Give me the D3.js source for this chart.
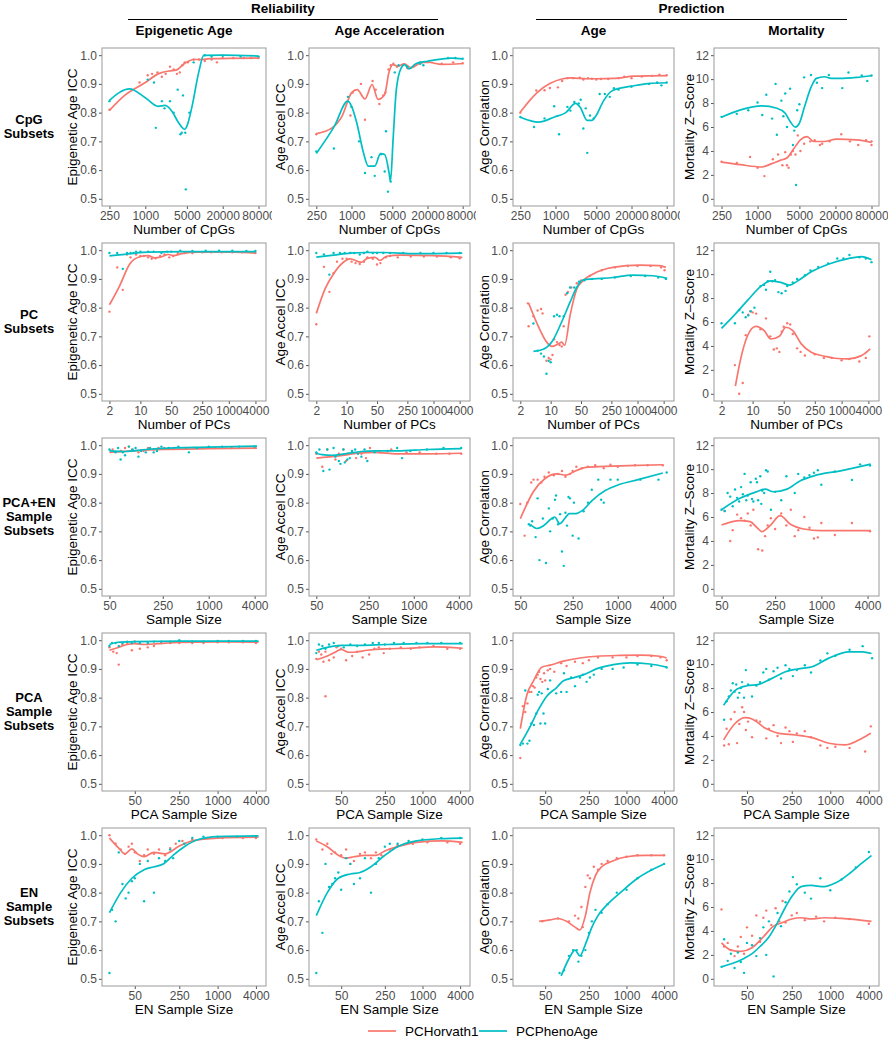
<!DOCTYPE html>
<html>
<head>
<meta charset="utf-8">
<script src="https://cdn.jsdelivr.net/npm/d3@7"></script>
<style>
body { margin: 0; background: #fff; }
svg text { font-family: "Liberation Sans", Arial, Helvetica, sans-serif; }
</style>
</head>
<body>
<svg id="chart" width="888" height="1050"></svg>
<script>
// labels and axes
const rowLabels = [["CpG", "Subsets"], ["PC", "Subsets"], ["PCA+EN", "Sample", "Subsets"], ["PCA", "Sample", "Subsets"], ["EN", "Sample", "Subsets"]];
const xTitles = ["Number of CpGs", "Number of PCs", "Sample Size", "PCA Sample Size", "EN Sample Size"];
const xTickVals = [[250, 1000, 5000, 20000, 80000], [2, 10, 50, 250, 1000, 4000], [50, 250, 1000, 4000], [50, 250, 1000, 4000], [50, 250, 1000, 4000]];
const xRanges = [[250, 80000], [2, 4700], [50, 4500], [20, 4400], [20, 4400]];
const colTitles = ["Epigenetic Age", "Age Acceleration", "Age", "Mortality"];
const yTitles = ["Epigenetic Age ICC", "Age Accel ICC", "Age Correlation", "Mortality Z\u2013Score"];
const iccTicks = [0.5, 0.6, 0.7, 0.8, 0.9, 1.0];
const mortTicks = [0, 2, 4, 6, 8, 10, 12];
const seriesNames = ["PCHorvath1", "PCPhenoAge"];

// ---- row 1: CpG subsets ----
const cpgEpiH = [[250,0.81],[800,0.905],[1100,0.93],[1300,0.935],[1600,0.94],[1900,0.925],[2200,0.935],[2600,0.96],[3000,0.95],[3400,0.935],[3800,0.94],[4200,0.965],[4600,0.975],[5200,0.975],[6500,0.985],[8000,0.985],[10000,0.98],[13000,0.985],[16000,0.975],[20000,0.99],[30000,0.99],[45000,0.99],[60000,0.99],[80000,0.99]];
const cpgEpiHfit = [[250,0.808],[450,0.86],[1000,0.905],[1650,0.935],[2500,0.945],[3300,0.948],[4500,0.97],[6500,0.985],[9000,0.985],[12000,0.988],[80000,0.99]];
const cpgEpiP = [[250,0.84],[1100,0.915],[1400,0.905],[1500,0.747],[1900,0.84],[2100,0.815],[2600,0.84],[3000,0.80],[3500,0.88],[3900,0.725],[4100,0.73],[4300,0.86],[4700,0.73],[4800,0.533],[5500,0.80],[6500,0.975],[10000,1.0],[13000,0.995],[20000,0.998],[40000,0.995],[80000,0.995]];
const cpgEpiPfit = [[250,0.843],[545,0.883],[1000,0.852],[1650,0.822],[2150,0.825],[2800,0.805],[3600,0.766],[4600,0.742],[5000,0.753],[6080,0.82],[7900,0.94],[9600,0.999],[20000,1.0],[80000,0.997]];

const cpgAccH = [[250,0.725],[960,0.79],[1050,0.87],[1450,0.90],[1700,0.775],[2300,0.91],[2600,0.88],[3000,0.83],[3500,0.86],[3800,0.87],[4300,0.95],[4700,0.965],[5200,0.97],[6000,0.96],[9000,0.955],[12000,0.965],[15000,0.975],[20000,0.975],[35000,0.97],[55000,0.975],[80000,0.972]];
const cpgAccHfit = [[250,0.727],[465,0.747],[690,0.788],[1000,0.869],[1250,0.88],[1700,0.848],[2250,0.898],[2850,0.846],[3700,0.863],[4350,0.938],[5100,0.967],[6200,0.962],[8000,0.97],[10500,0.956],[14500,0.971],[20000,0.976],[35000,0.968],[80000,0.971]];
const cpgAccP = [[250,0.665],[500,0.675],[870,0.855],[1000,0.82],[1350,0.70],[1700,0.59],[2200,0.645],[2500,0.58],[3200,0.655],[3700,0.595],[3900,0.735],[4200,0.525],[4700,0.56],[5500,0.94],[6400,0.965],[9000,0.96],[15000,0.97],[17000,0.965],[45000,0.99],[60000,0.99],[80000,0.988]];
const cpgAccPfit = [[250,0.658],[510,0.753],[860,0.84],[1000,0.823],[1230,0.765],[1600,0.661],[1940,0.614],[2500,0.614],[3130,0.657],[3700,0.654],[4400,0.59],[4650,0.561],[5150,0.706],[5850,0.88],[7100,0.956],[8100,0.967],[9600,0.952],[12800,0.971],[20000,0.979],[52000,0.99],[80000,0.987]];

const cpgCorH = [[250,0.80],[470,0.877],[650,0.878],[800,0.886],[1100,0.888],[1300,0.91],[1600,0.92],[2000,0.92],[2600,0.922],[3000,0.915],[3600,0.92],[4200,0.918],[5000,0.915],[6000,0.917],[8000,0.917],[12000,0.92],[15000,0.925],[20000,0.92],[30000,0.926],[45000,0.928],[60000,0.932],[80000,0.93]];
const cpgCorHfit = [[250,0.802],[480,0.869],[800,0.901],[1340,0.918],[1860,0.921],[3400,0.918],[5000,0.918],[10000,0.919],[22000,0.927],[80000,0.929]];
const cpgCorP = [[250,0.785],[430,0.75],[650,0.78],[950,0.822],[1150,0.725],[1600,0.82],[1800,0.807],[2100,0.837],[2500,0.832],[2700,0.845],[3000,0.745],[3300,0.815],[3500,0.66],[3900,0.79],[4500,0.78],[5700,0.865],[7000,0.865],[8500,0.855],[10000,0.885],[12000,0.88],[20000,0.89],[40000,0.9],[55000,0.905],[65000,0.895],[80000,0.905]];
const cpgCorPfit = [[250,0.784],[510,0.767],[960,0.785],[1500,0.80],[2200,0.832],[2680,0.817],[3470,0.773],[4200,0.773],[4900,0.788],[6600,0.84],[9100,0.875],[13400,0.886],[19700,0.892],[38000,0.901],[80000,0.904]];

const cpgMortH = [[250,3.1],[450,3.0],[750,3.5],[1000,2.6],[1300,1.9],[1800,3.3],[2200,3.7],[2600,2.8],[2900,3.9],[3100,2.8],[3300,2.6],[3600,3.7],[3900,4.0],[4300,3.7],[4700,5.3],[5200,4.0],[6000,4.6],[7600,4.8],[9000,4.9],[11000,4.5],[12000,4.6],[16000,4.8],[25000,5.4],[35000,4.8],[48000,4.5],[65000,4.9],[80000,4.5],[80000,4.8]];
const cpgMortHfit = [[250,3.07],[520,2.85],[1180,2.66],[1730,2.94],[2380,3.21],[3080,3.41],[4000,4.16],[5200,4.93],[6700,5.2],[8700,4.79],[12800,4.79],[21000,4.99],[45000,4.93],[80000,4.71]];
const cpgMortP = [[250,6.85],[450,7.1],[700,7.4],[1000,8.05],[1200,7.0],[1400,8.7],[1750,6.7],[2000,9.6],[2100,5.35],[2500,8.2],[2700,6.9],[2900,8.8],[3100,6.0],[3500,9.2],[3900,4.5],[4100,5.7],[4400,1.15],[4600,7.4],[5000,7.9],[6000,10.15],[7800,10.35],[9800,9.7],[12000,9.25],[15500,10.35],[26000,9.25],[33000,10.55],[55000,10.3],[68000,9.85],[80000,10.3]];
const cpgMortPfit = [[250,6.82],[520,7.43],[1180,7.76],[2100,7.57],[2900,7.15],[3500,6.46],[4300,5.99],[5000,6.32],[6100,7.71],[7900,9.37],[9600,10.06],[13000,10.2],[17000,10.06],[23000,10.06],[45000,10.14],[80000,10.28]];

// ---- row 2: PC subsets ----
const pcEpiH = [[2,0.786],[3,0.94],[4,0.862],[5,0.985],[6,0.975],[8,0.985],[10,0.98],[12,0.98],[15,0.975],[18,0.97],[22,0.972],[28,0.98],[35,0.985],[45,0.975],[55,0.98],[70,0.99],[100,0.99],[150,0.99],[250,0.993],[400,0.993],[700,0.993],[1200,0.993],[2000,0.993],[4000,0.99]];
const pcEpiHfit = [[2,0.81],[3.4,0.876],[5.7,0.951],[9.7,0.977],[15,0.981],[21,0.973],[30,0.977],[43,0.985],[56,0.981],[86,0.988],[210,0.993],[1200,0.993],[4100,0.99]];
const pcEpiP = [[2,0.99],[3,0.99],[4,0.935],[5,0.99],[6,0.99],[7,0.99],[8,0.995],[10,0.995],[15,0.995],[20,0.995],[30,0.99],[40,0.995],[50,0.995],[80,0.998],[150,0.997],[300,0.998],[600,0.998],[1200,0.998],[2500,0.997],[4000,0.997]];
const pcEpiPfit = [[2,0.98],[6.2,0.988],[15,0.993],[86,0.995],[4100,0.995]];

const pcAccH = [[2,0.742],[3,0.942],[4,0.855],[5,0.92],[6,0.96],[8,0.97],[10,0.97],[13,0.96],[16,0.955],[20,0.952],[25,0.96],[30,0.975],[40,0.97],[50,0.95],[60,0.955],[80,0.975],[100,0.98],[150,0.975],[300,0.978],[600,0.978],[1200,0.978],[2500,0.975],[4000,0.972]];
const pcAccHfit = [[2,0.78],[3.2,0.866],[5,0.918],[8.4,0.958],[12,0.97],[18.6,0.96],[22,0.958],[29,0.97],[45,0.975],[58,0.964],[83,0.979],[170,0.983],[1000,0.981],[4600,0.975]];
const pcAccP = [[2,0.99],[3,0.985],[4,0.915],[5,0.99],[7,0.99],[9,0.99],[12,0.99],[15,0.99],[20,0.985],[25,0.99],[30,0.995],[40,0.99],[50,0.99],[70,0.99],[100,0.99],[200,0.99],[500,0.99],[1000,0.99],[2000,0.99],[4000,0.99]];
const pcAccPfit = [[2,0.976],[5,0.983],[12,0.99],[29,0.992],[70,0.992],[400,0.988],[4600,0.99]];

const pcCorH = [[3,0.815],[3.1,0.735],[4,0.77],[5,0.79],[6,0.795],[6.5,0.78],[8,0.615],[9,0.625],[10,0.62],[11,0.635],[12,0.69],[14,0.68],[16,0.67],[18,0.665],[20,0.735],[22,0.845],[25,0.855],[30,0.87],[40,0.885],[50,0.895],[80,0.91],[150,0.93],[300,0.94],[600,0.945],[1000,0.945],[2000,0.945],[3500,0.94],[4200,0.93]];
const pcCorHfit = [[3.1,0.816],[5.3,0.732],[8.1,0.68],[10.6,0.665],[15,0.674],[17.9,0.68],[21,0.669],[28,0.773],[40,0.865],[56,0.894],[95,0.917],[270,0.94],[1120,0.948],[3200,0.946],[4500,0.94]];
const pcCorP = [[4,0.745],[5,0.65],[6,0.64],[7,0.63],[8,0.57],[9,0.615],[10,0.61],[12,0.77],[14,0.775],[16,0.77],[20,0.77],[24,0.85],[28,0.87],[35,0.87],[45,0.89],[60,0.895],[90,0.9],[150,0.9],[300,0.905],[700,0.91],[1500,0.91],[3000,0.905],[4500,0.9]];
const pcCorPfit = [[4,0.648],[6.8,0.655],[10.6,0.68],[17.9,0.75],[28,0.819],[40,0.871],[56,0.897],[95,0.9],[270,0.905],[780,0.913],[2200,0.911],[4800,0.902]];

const pcMortH = [[4,2.4],[5,0.0],[6,0.9],[7,4.9],[8,6.6],[9,6.9],[10,6.8],[12,6.7],[15,5.4],[20,6.3],[25,4.8],[30,3.7],[35,3.8],[40,3.5],[45,5.2],[50,5.6],[60,5.9],[70,5.8],[80,5.0],[100,3.8],[120,3.5],[150,3.2],[250,3.3],[400,3.0],[600,3.0],[1000,2.8],[1500,2.9],[2500,2.7],[3500,3.0],[4200,4.8]];
const pcMortHfit = [[4.1,0.64],[5.4,2.92],[7.6,4.81],[11.8,5.64],[18.2,5.28],[25.7,4.58],[40,4.81],[56,5.56],[80,5.28],[124,4.17],[208,3.47],[420,3.14],[700,2.97],[1400,2.92],[2800,3.19],[4400,3.75]];
const pcMortP = [[2,5.9],[4,5.9],[5,7.0],[6,6.8],[7,6.4],[8,6.55],[9,6.9],[11,7.2],[15,9.0],[18,9.1],[20,8.7],[22,9.4],[25,10.2],[28,9.4],[32,9.5],[38,8.5],[45,8.4],[55,8.6],[60,9.0],[80,9.3],[100,9.6],[150,9.9],[200,10.3],[300,10.6],[500,10.9],[800,11.3],[1100,11.3],[1500,11.6],[2500,11.4],[3500,11.3],[4700,11.0]];
const pcMortPfit = [[2,5.47],[3.8,6.53],[7.6,7.78],[15.3,8.97],[25.7,9.44],[43,9.31],[67,9.08],[104,9.44],[208,10.19],[500,10.83],[1400,11.3],[2800,11.47],[4700,11.2]];

// ---- row 3: PCA+EN sample subsets ----
const bothEpiH = [[55,0.985],[70,0.98],[80,0.99],[90,0.995],[100,0.985],[120,0.975],[140,0.98],[160,0.99],[190,0.985],[220,0.99],[260,0.99],[350,0.99],[500,0.99],[800,0.99],[1200,0.99],[2000,0.99],[4000,0.99]];
const bothEpiHfit = [[50,0.975],[100,0.98],[250,0.985],[1000,0.988],[4300,0.99]];
const bothEpiP = [[50,0.985],[60,0.975],[65,0.99],[70,0.95],[75,0.975],[80,0.965],[90,0.995],[100,0.985],[110,0.99],[120,0.96],[130,0.98],[150,0.975],[170,0.99],[190,0.975],[210,0.98],[240,0.995],[300,0.99],[400,0.995],[550,0.975],[700,0.99],[1000,0.995],[1500,0.995],[2500,0.995],[4000,0.995]];
const bothEpiPfit = [[50,0.98],[80,0.978],[150,0.985],[300,0.99],[1000,0.993],[4300,0.997]];

const bothAccH = [[50,0.97],[60,0.925],[70,0.985],[90,0.95],[100,0.97],[115,0.985],[125,0.945],[135,0.97],[150,0.98],[170,0.955],[200,0.97],[230,0.955],[260,0.99],[350,0.975],[500,0.985],[800,0.975],[1200,0.975],[2000,0.97],[3000,0.97],[4300,0.97]];
const bothAccHfit = [[50,0.955],[100,0.963],[200,0.973],[300,0.975],[600,0.97],[1500,0.97],[4300,0.972]];
const bothAccP = [[50,0.975],[55,0.985],[62,0.91],[70,0.985],[75,0.915],[85,0.99],[90,0.96],[100,0.945],[105,0.935],[115,0.985],[120,0.94],[130,0.95],[140,0.955],[150,0.98],[165,0.985],[180,0.97],[200,0.96],[220,0.985],[240,0.945],[300,0.975],[450,0.98],[600,0.99],[700,0.955],[900,0.98],[1500,0.985],[2500,0.99],[4300,0.99]];
const bothAccPfit = [[50,0.972],[60,0.967],[80,0.965],[120,0.97],[200,0.978],[300,0.98],[600,0.98],[1500,0.985],[4300,0.988]];

const bothCorH = [[50,0.795],[57,0.685],[62,0.8],[70,0.87],[75,0.88],[85,0.88],[95,0.87],[105,0.89],[120,0.905],[140,0.895],[160,0.9],[180,0.91],[200,0.89],[230,0.9],[250,0.91],[280,0.925],[330,0.92],[400,0.925],[500,0.93],[650,0.92],[800,0.932],[1000,0.925],[1700,0.93],[2500,0.93],[4000,0.93]];
const bothCorHfit = [[50,0.744],[75,0.839],[106,0.883],[151,0.9],[203,0.896],[276,0.911],[374,0.923],[680,0.926],[1390,0.929],[4000,0.932]];
const bothCorP = [[65,0.725],[68,0.72],[72,0.735],[80,0.68],[85,0.815],[90,0.6],[100,0.745],[110,0.59],[120,0.78],[125,0.7],[135,0.745],[145,0.81],[150,0.825],[160,0.725],[170,0.76],[180,0.63],[190,0.58],[200,0.765],[210,0.72],[220,0.82],[230,0.815],[250,0.685],[260,0.8],[300,0.675],[350,0.77],[400,0.8],[450,0.845],[550,0.88],[600,0.81],[650,0.8],[800,0.88],[1000,0.88],[2000,0.88],[3500,0.88],[4500,0.905]];
const bothCorPfit = [[68,0.724],[83,0.71],[101,0.719],[130,0.744],[144,0.75],[168,0.727],[195,0.744],[226,0.762],[276,0.762],[338,0.773],[457,0.808],[680,0.842],[1020,0.862],[1870,0.88],[4000,0.903]];

const bothMortH = [[55,6.5],[65,4.0],[70,4.9],[80,6.2],[90,5.9],[100,5.7],[110,6.3],[120,5.3],[130,6.6],[150,3.3],[170,3.2],[185,4.4],[200,5.3],[220,5.9],[250,5.0],[300,6.3],[350,5.3],[400,6.6],[450,4.4],[500,4.9],[600,6.0],[700,5.1],[800,4.2],[900,4.3],[1000,5.5],[1500,4.5],[2500,5.5],[4300,4.8]];
const bothMortHfit = [[50,5.33],[87,5.69],[118,5.61],[144,5.14],[168,4.78],[215,5.28],[290,6.11],[390,5.42],[590,5.0],[975,4.86],[4400,4.86]];
const bothMortP = [[50,6.6],[55,6.5],[60,8.0],[65,7.7],[70,6.9],[75,8.3],[80,7.6],[85,7.3],[90,8.5],[95,7.9],[100,9.6],[105,7.4],[110,7.8],[120,8.9],[125,7.5],[130,7.3],[140,9.2],[145,8.9],[150,7.4],[160,9.4],[165,7.1],[170,8.2],[180,8.0],[190,9.9],[200,9.8],[220,6.6],[250,8.1],[300,7.4],[350,9.4],[450,8.0],[500,9.6],[600,9.3],[700,9.5],[800,9.7],[900,9.9],[1000,8.7],[1500,9.8],[2500,9.1],[3200,10.4],[4300,10.3]];
const bothMortPfit = [[50,6.61],[87,7.56],[144,8.11],[185,8.33],[238,8.11],[357,8.33],[533,9.03],[798,9.44],[1780,9.86],[4400,10.42]];

// ---- row 4: PCA sample subsets ----
const pcaEpiH = [[20,0.975],[23,0.96],[26,0.955],[28,0.915],[32,0.985],[38,0.99],[45,0.965],[50,0.995],[60,0.97],[80,0.975],[100,0.98],[130,0.99],[180,0.99],[250,0.99],[400,0.99],[600,0.99],[1000,0.993],[1500,0.993],[2500,0.993],[4000,0.99]];
const pcaEpiHfit = [[20,0.965],[26,0.973],[38,0.985],[50,0.988],[70,0.985],[115,0.988],[250,0.992],[1050,0.994],[4400,0.993]];
const pcaEpiP = [[20,0.98],[22,0.99],[25,0.99],[28,0.98],[32,0.99],[38,0.995],[45,0.99],[50,0.995],[60,0.99],[80,0.99],[100,0.995],[130,0.995],[180,0.995],[250,1.0],[400,0.995],[600,0.995],[1000,0.997],[1500,0.997],[2500,0.997],[4000,0.997]];
const pcaEpiPfit = [[20,0.985],[26,0.992],[50,0.995],[250,0.997],[4400,0.997]];

const pcaAccH = [[20,0.935],[22,0.96],[24,0.95],[26,0.925],[28,0.96],[32,0.93],[38,0.94],[42,0.975],[50,0.97],[60,0.93],[75,0.945],[90,0.96],[110,0.94],[140,0.95],[170,0.97],[200,0.975],[240,0.955],[300,0.97],[450,0.975],[650,0.97],[900,0.975],[1500,0.98],[2500,0.97],[4000,0.97],[28,0.805]];
const pcaAccHfit = [[20,0.932],[30,0.945],[40,0.958],[50,0.968],[65,0.958],[80,0.958],[130,0.965],[250,0.97],[600,0.972],[1500,0.977],[4400,0.972]];
const pcaAccP = [[20,0.955],[22,0.985],[25,0.98],[28,0.97],[32,0.985],[38,0.99],[45,0.98],[55,0.975],[70,0.985],[90,0.98],[120,0.985],[160,0.99],[200,0.99],[250,0.985],[350,0.99],[500,0.99],[800,0.99],[1200,0.99],[2000,0.99],[4000,0.99]];
const pcaAccPfit = [[20,0.965],[30,0.975],[50,0.982],[100,0.982],[250,0.985],[1000,0.988],[4400,0.988]];

const pcaCorH = [[20,0.59],[22,0.77],[24,0.75],[26,0.78],[28,0.82],[30,0.82],[32,0.84],[34,0.835],[36,0.87],[38,0.88],[40,0.89],[42,0.865],[45,0.855],[48,0.885],[50,0.86],[55,0.895],[60,0.9],[70,0.89],[90,0.92],[110,0.91],[150,0.925],[200,0.92],[250,0.93],[350,0.94],[600,0.94],[1000,0.94],[1500,0.945],[2500,0.945],[3500,0.94],[4400,0.93]];
const pcaCorHfit = [[20,0.692],[25.5,0.81],[32.7,0.859],[44,0.906],[60,0.913],[98,0.927],[181,0.938],[336,0.944],[790,0.947],[1640,0.948],[3400,0.944],[4400,0.938]];
const pcaCorP = [[20,0.635],[22,0.64],[24,0.825],[26,0.64],[28,0.65],[30,0.71],[33,0.705],[36,0.745],[38,0.81],[40,0.82],[42,0.71],[44,0.815],[47,0.745],[50,0.71],[55,0.83],[60,0.86],[75,0.815],[90,0.82],[100,0.885],[110,0.82],[130,0.87],[150,0.84],[180,0.87],[200,0.88],[230,0.855],[260,0.87],[300,0.88],[400,0.9],[600,0.9],[900,0.905],[1500,0.915],[2500,0.91],[4400,0.905]];
const pcaCorPfit = [[20,0.638],[28.8,0.7],[39,0.758],[53,0.805],[77,0.836],[98,0.859],[141,0.869],[208,0.88],[336,0.901],[620,0.915],[1140,0.921],[2370,0.917],[4400,0.906]];

const pcaMortH = [[22,3.2],[24,4.6],[26,3.3],[28,5.4],[32,6.0],[35,3.4],[38,5.0],[42,6.4],[45,6.0],[48,4.5],[52,5.2],[60,3.9],[70,5.3],[80,5.2],[100,3.8],[110,4.6],[130,4.9],[150,4.0],[170,3.4],[200,4.7],[230,4.4],[260,3.5],[300,4.2],[400,4.4],[500,3.9],[700,3.2],[900,3.0],[1200,3.1],[2000,3.0],[3500,2.7],[4300,4.8]];
const pcaMortHfit = [[21.6,3.67],[32.8,5.06],[47,5.53],[60,5.42],[97,4.64],[157,4.22],[285,4.08],[520,3.86],[950,3.39],[1730,3.25],[3150,3.81],[4300,4.22]];
const pcaMortP = [[22,5.35],[24,6.9],[26,7.3],[28,7.8],[30,8.4],[32,7.7],[34,8.3],[36,7.2],[38,7.6],[40,8.0],[42,8.5],[45,7.2],[48,9.5],[52,8.3],[60,7.3],[70,8.2],[80,8.5],[90,9.3],[100,9.6],[110,8.7],[130,9.4],[150,9.7],[170,8.8],[200,9.9],[230,9.6],[260,9.0],[300,9.5],[400,9.9],[500,9.3],[700,10.3],[900,10.9],[1200,10.7],[2000,11.2],[3200,11.5],[4500,10.5]];
const pcaMortPfit = [[21.6,6.56],[32.8,7.81],[50,8.19],[76,8.31],[123,8.81],[199,9.36],[362,9.64],[520,9.78],[950,10.5],[1950,11.03],[3150,11.03],[4400,10.89]];

// ---- row 5: EN sample subsets ----
const enEpiH = [[20,1.0],[25,0.97],[30,0.95],[35,0.935],[40,0.96],[45,0.97],[50,0.94],[60,0.91],[70,0.93],[80,0.95],[100,0.935],[120,0.95],[150,0.93],[180,0.955],[220,0.97],[280,0.98],[400,0.985],[700,0.99],[1200,0.99],[2500,0.99],[4000,0.99]];
const enEpiHfit = [[20,0.99],[28,0.955],[35,0.935],[45,0.952],[55,0.935],[70,0.925],[100,0.94],[150,0.935],[250,0.962],[400,0.98],[1000,0.99],[4400,0.993]];
const enEpiP = [[20,0.52],[22,0.74],[25,0.7],[28,0.94],[32,0.83],[36,0.78],[40,0.8],[45,0.84],[50,0.85],[60,0.9],[70,0.77],[80,0.91],[100,0.8],[120,0.92],[150,0.91],[180,0.95],[200,0.92],[250,0.98],[300,0.97],[400,0.99],[600,0.995],[1000,0.995],[2000,0.995],[4000,0.995]];
const enEpiPfit = [[20,0.73],[30,0.8],[45,0.85],[70,0.88],[100,0.89],[140,0.9],[200,0.93],[300,0.96],[500,0.985],[1000,0.995],[4400,0.998]];

const enAccH = [[20,0.985],[25,0.95],[30,0.97],[35,0.935],[40,0.94],[50,0.93],[60,0.95],[70,0.9],[80,0.91],[100,0.935],[120,0.94],[150,0.92],[180,0.94],[220,0.93],[300,0.95],[400,0.965],[700,0.97],[1200,0.975],[2500,0.975],[4000,0.97]];
const enAccHfit = [[20,0.98],[30,0.96],[45,0.93],[60,0.92],[80,0.925],[120,0.93],[180,0.93],[250,0.945],[400,0.96],[800,0.975],[2000,0.98],[4400,0.975]];
const enAccP = [[20,0.52],[22,0.77],[25,0.66],[28,0.9],[32,0.82],[36,0.83],[40,0.85],[45,0.87],[50,0.81],[60,0.92],[70,0.9],[80,0.83],[100,0.85],[120,0.92],[150,0.8],[180,0.9],[200,0.92],[250,0.96],[300,0.97],[400,0.97],[600,0.98],[1000,0.985],[2000,0.99],[4000,0.99]];
const enAccPfit = [[20,0.72],[30,0.8],[45,0.85],[70,0.865],[100,0.87],[150,0.89],[250,0.93],[400,0.96],[800,0.98],[2000,0.988],[4400,0.99]];

const enCorH = [[45,0.70],[80,0.71],[120,0.70],[150,0.72],[170,0.71],[190,0.75],[200,0.68],[220,0.82],[240,0.86],[260,0.85],[300,0.89],[350,0.88],[400,0.9],[500,0.91],[700,0.92],[1000,0.925],[1500,0.93],[2500,0.93],[4000,0.93]];
const enCorHfit = [[40,0.70],[60,0.705],[80,0.71],[110,0.70],[150,0.68],[180,0.67],[220,0.72],[260,0.80],[320,0.86],[400,0.89],[600,0.91],[1000,0.925],[2000,0.93],[4000,0.93]];
const enCorP = [[85,0.52],[100,0.53],[120,0.58],[140,0.6],[160,0.6],[170,0.56],[190,0.58],[220,0.6],[250,0.66],[280,0.7],[320,0.74],[400,0.73],[500,0.76],[700,0.8],[1000,0.81],[1500,0.85],[2500,0.88],[4000,0.9]];
const enCorPfit = [[90,0.51],[120,0.57],[150,0.6],[180,0.58],[220,0.62],[280,0.68],[350,0.72],[500,0.76],[800,0.8],[1500,0.85],[4000,0.9]];

const enMortH = [[20,5.8],[22,2.7],[25,3.0],[28,2.4],[32,1.9],[36,2.7],[40,3.5],[45,2.1],[50,4.3],[60,3.6],[70,5.3],[80,3.1],[90,5.1],[100,5.7],[120,4.5],[140,5.9],[160,4.8],[180,6.5],[200,4.7],[250,5.3],[300,5.5],[400,4.9],[600,5.2],[800,4.8],[1200,5.1],[2000,5.0],[4000,4.6]];
const enMortHfit = [[20,3.0],[28,2.4],[40,2.3],[60,2.6],[90,3.5],[130,4.4],[180,4.7],[250,5.0],[350,5.1],[500,5.0],[800,5.1],[1500,5.05],[4400,4.8]];
const enMortP = [[20,1.0],[22,3.3],[25,1.5],[28,2.1],[32,0.9],[36,2.2],[40,1.4],[45,0.5],[50,3.0],[60,2.8],[70,1.9],[80,3.4],[90,4.3],[100,2.0],[110,4.8],[130,0.2],[150,5.5],[170,4.4],[200,6.4],[230,7.3],[260,8.5],[300,7.9],[400,7.2],[500,6.7],[700,8.4],[1000,7.4],[1500,8.3],[2500,9.3],[4000,10.6]];
const enMortPfit = [[20,1.0],[30,1.3],[45,1.7],[60,2.1],[80,2.7],[110,3.5],[150,4.7],[200,6.0],[260,7.0],[350,7.7],[500,7.8],[800,7.7],[1200,8.0],[2000,8.8],[3000,9.6],[4400,10.3]];

// panel table built from the arrays above: [horvath pts, horvath fit, pheno pts, pheno fit]
const panelRows = [
    [[cpgEpiH, cpgEpiHfit, cpgEpiP, cpgEpiPfit], [cpgAccH, cpgAccHfit, cpgAccP, cpgAccPfit], [cpgCorH, cpgCorHfit, cpgCorP, cpgCorPfit], [cpgMortH, cpgMortHfit, cpgMortP, cpgMortPfit]],
    [[pcEpiH, pcEpiHfit, pcEpiP, pcEpiPfit], [pcAccH, pcAccHfit, pcAccP, pcAccPfit], [pcCorH, pcCorHfit, pcCorP, pcCorPfit], [pcMortH, pcMortHfit, pcMortP, pcMortPfit]],
    [[bothEpiH, bothEpiHfit, bothEpiP, bothEpiPfit], [bothAccH, bothAccHfit, bothAccP, bothAccPfit], [bothCorH, bothCorHfit, bothCorP, bothCorPfit], [bothMortH, bothMortHfit, bothMortP, bothMortPfit]],
    [[pcaEpiH, pcaEpiHfit, pcaEpiP, pcaEpiPfit], [pcaAccH, pcaAccHfit, pcaAccP, pcaAccPfit], [pcaCorH, pcaCorHfit, pcaCorP, pcaCorPfit], [pcaMortH, pcaMortHfit, pcaMortP, pcaMortPfit]],
    [[enEpiH, enEpiHfit, enEpiP, enEpiPfit], [enAccH, enAccHfit, enAccP, enAccPfit], [enCorH, enCorHfit, enCorP, enCorPfit], [enMortH, enMortHfit, enMortP, enMortPfit]]
];

// layout
const boxL = [102, 309, 513, 714];
const boxW = [164, 161, 161, 165];
const cellL = [60, 272, 476, 680];
const yTitleOff = [30, 29, 29, 25];
const top0 = 48, rowStep = 195, boxH = 158;
const red = "#F8766D", teal = "#00BFC4";
const tickGrey = "#4D4D4D";

const svg = d3.select("#chart");

// expand a range by 5% on log scale, like ggplot does
function expandLog(r) {
    const a = Math.log10(r[0]), b = Math.log10(r[1]), e = (b - a) * 0.05;
    return [Math.pow(10, a - e), Math.pow(10, b + e)];
}

panelRows.forEach((row, ri) => {
    const top = top0 + ri * rowStep;
    row.forEach((series, ci) => {
        const g = svg.append("g");
        // white backing hides the previous panel's overflowing last tick label
        if (ci > 0) {
            g.append("rect")
                .attr("x", cellL[ci]).attr("y", top - 10)
                .attr("width", boxL[ci] - cellL[ci]).attr("height", boxH + 45)
                .attr("fill", "#fff");
        }

        const x = d3.scaleLog().domain(expandLog(xRanges[ri])).range([boxL[ci], boxL[ci] + boxW[ci]]);
        const isMort = ci === 3;
        const y = d3.scaleLinear()
            .domain(isMort ? [-0.6, 12.6] : [0.475, 1.025])
            .range([top + boxH, top]);

        // axes
        const xAxis = g.append("g")
            .attr("transform", `translate(0,${top + boxH})`)
            .call(d3.axisBottom(x).tickValues(xTickVals[ri]).tickFormat(d3.format("d")).tickSize(3).tickPadding(2));
        const yAxis = g.append("g")
            .attr("transform", `translate(${boxL[ci]},0)`)
            .call(d3.axisLeft(y).tickValues(isMort ? mortTicks : iccTicks)
                .tickFormat(isMort ? d3.format("d") : d3.format(".1f")).tickSize(3).tickPadding(2));
        [xAxis, yAxis].forEach(ax => {
            ax.select(".domain").remove();
            ax.selectAll(".tick line").attr("stroke", "#555");
            ax.selectAll(".tick text").attr("fill", tickGrey).style("font-size", "12px");
        });

        // smooth lines and points
        const line = d3.line().x(d => x(d[0])).y(d => y(d[1])).curve(d3.curveMonotoneX);
        [[series[0], series[1], red], [series[2], series[3], teal]].forEach(([pts, fit, col]) => {
            g.append("g").selectAll("circle").data(pts).enter().append("circle")
                .attr("cx", d => x(d[0])).attr("cy", d => y(d[1]))
                .attr("r", 1.2).attr("fill", col);
            g.append("path").datum(fit)
                .attr("d", line).attr("fill", "none")
                .attr("stroke", col).attr("stroke-width", 1.7);
        });

        // panel border
        g.append("rect")
            .attr("x", boxL[ci]).attr("y", top)
            .attr("width", boxW[ci]).attr("height", boxH)
            .attr("fill", "none").attr("stroke", "#9a9a9a").attr("stroke-width", 1);

        // axis titles
        g.append("text")
            .attr("x", boxL[ci] + boxW[ci] / 2).attr("y", top + boxH + 28)
            .attr("text-anchor", "middle").style("font-size", "13.5px")
            .text(xTitles[ri]);
        g.append("text")
            .attr("transform", `translate(${boxL[ci] - yTitleOff[ci]},${top + boxH / 2}) rotate(-90)`)
            .attr("text-anchor", "middle").attr("dy", "0.35em").style("font-size", "13.5px")
            .text(yTitles[ci]);
    });

    // row label
    const lines = rowLabels[ri];
    const rl = svg.append("text")
        .attr("text-anchor", "middle").style("font-size", "13px").style("font-weight", "bold");
    lines.forEach((t, i) => {
        rl.append("tspan").attr("x", 29)
            .attr("y", top + boxH / 2 + (i - (lines.length - 1) / 2) * 14 + 4)
            .text(t);
    });
});

// column titles and group headers
colTitles.forEach((t, ci) => {
    svg.append("text")
        .attr("x", boxL[ci] + boxW[ci] / 2).attr("y", 35)
        .attr("text-anchor", "middle").style("font-size", "13.5px").style("font-weight", "bold")
        .text(t);
});
const groups = [["Reliability", 128, 438], ["Prediction", 536, 847]];
groups.forEach(([t, x0, x1]) => {
    svg.append("text")
        .attr("x", (x0 + x1) / 2).attr("y", 12.5)
        .attr("text-anchor", "middle").style("font-size", "13.5px").style("font-weight", "bold")
        .text(t);
    svg.append("line")
        .attr("x1", x0).attr("x2", x1).attr("y1", 19.5).attr("y2", 19.5)
        .attr("stroke", "#000").attr("stroke-width", 1);
});

// legend
const legend = svg.append("g").attr("transform", "translate(368,1031)");
seriesNames.forEach((name, i) => {
    const lx = i * 111;
    legend.append("line")
        .attr("x1", lx).attr("x2", lx + 28).attr("y1", 0).attr("y2", 0)
        .attr("stroke", i === 0 ? red : teal).attr("stroke-width", 1.7);
    legend.append("text")
        .attr("x", lx + 37).attr("y", 0).attr("dy", "0.35em")
        .style("font-size", "13.5px").text(name);
});
</script>
</body>
</html>
